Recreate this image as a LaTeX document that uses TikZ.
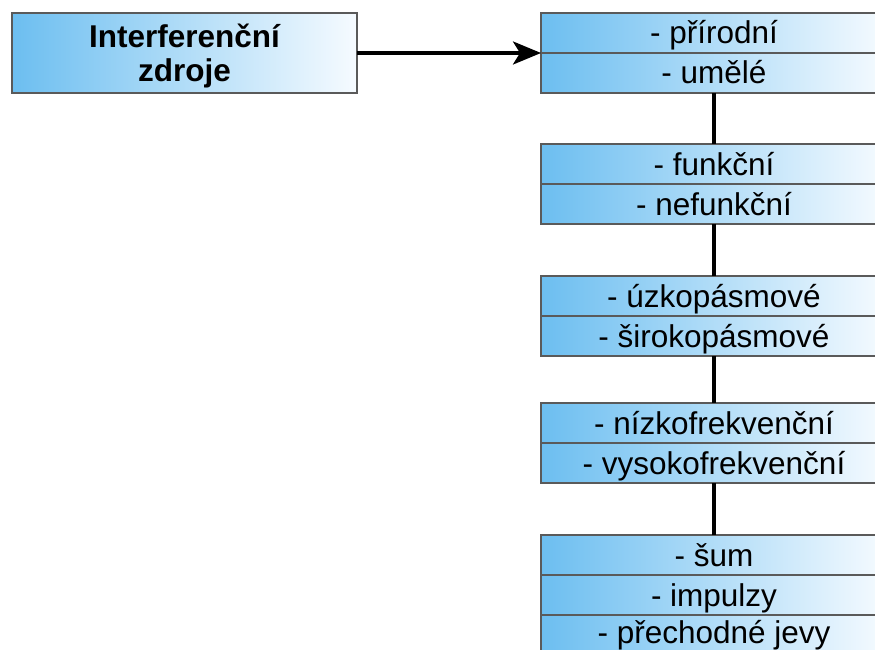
\documentclass[tikz,border=0pt]{standalone}
\usepackage{fontspec}
\setmainfont{Liberation Sans}
\usetikzlibrary{positioning,arrows.meta}

\definecolor{cellblue}{RGB}{108,190,240}
\definecolor{cellwhite}{RGB}{246,251,255}
\definecolor{cellline}{RGB}{90,90,90}

\tikzset{
  cell/.style={draw=cellline, line width=1.2pt, left color=cellblue, right color=cellwhite,
    minimum width=346pt, minimum height=40pt, inner sep=0pt, outer sep=0pt,
    text height=22pt, text depth=0pt, font=\fontsize{31.5}{33}\selectfont},
  source/.style={cell, minimum width=345pt, minimum height=80pt, align=center,
    text height=, text depth=0pt, font=\fontsize{31.5}{34}\selectfont\bfseries},
  link/.style={draw, line width=3.5pt},
}

\begin{document}
\begin{tikzpicture}[x=1pt, y=-1pt]
\useasboundingbox (0,0) rectangle (875,650);
\clip (0,0) rectangle (875,650);

\node[source] (src) at (184.5,53) {Interferenční\\zdroje};

\node[cell] (nat) at (714,33) {- přírodní};
\node[cell, below=0pt of nat] (art) {- umělé};

\node[cell] (fun) at (714,164) {- funkční};
\node[cell, below=0pt of fun] (nefun) {- nefunkční};

\node[cell] (narrow) at (714,296) {- úzkopásmové};
\node[cell, below=0pt of narrow] (wide) {- širokopásmové};

\node[cell] (low) at (714,423) {- nízkofrekvenční};
\node[cell, below=0pt of low] (high) {- vysokofrekvenční};

\node[cell] (noise) at (714,555) {- šum};
\node[cell, below=0pt of noise] (pulse) {- impulzy};
\node[cell, below=0pt of pulse, text depth=5pt] (trans) {- přechodné jevy};

\path[link, -{Stealth[length=28pt, width=23pt, inset=7pt]}] (src.east) -- (nat.south west);
\path[link] (art.south) -- (fun.north);
\path[link] (nefun.south) -- (narrow.north);
\path[link] (wide.south) -- (low.north);
\path[link] (high.south) -- (noise.north);
\end{tikzpicture}
\end{document}
